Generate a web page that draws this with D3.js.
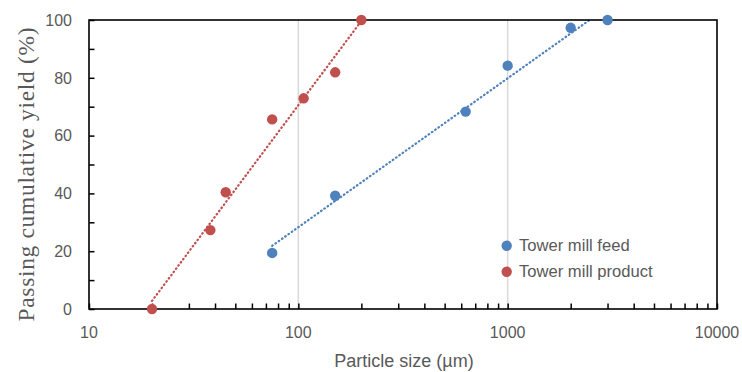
<!DOCTYPE html>
<html>
<head>
<meta charset="utf-8">
<script src="https://cdn.jsdelivr.net/npm/d3@7"></script>
<style>
  html, body { margin: 0; padding: 0; background: #fff; }
  svg { display: block; }
</style>
</head>
<body>
<svg id="chart" width="742" height="372"></svg>
<script>
// ---- data ----
const feedSize = [75, 150, 630, 1000, 2000, 3000];
const feedYield = [19.4, 39.2, 68.3, 84.2, 97.3, 100];
const productSize = [20, 38, 45, 75, 106, 150, 200];
const productYield = [0, 27.3, 40.4, 65.6, 72.9, 81.9, 100];
const seriesNames = ["Tower mill feed", "Tower mill product"];
const seriesColors = ["#4f81bd", "#c0504d"];
const xTickValues = [10, 100, 1000, 10000];
const yTickValues = [0, 20, 40, 60, 80, 100];
const xTitle = "Particle size (µm)";
const yTitle = "Passing cumulative yield (%)";

// ---- layout ----
const svg = d3.select("#chart");
const L = 89, R = 717, T = 20, B = 309;
const x = d3.scaleLog().domain([10, 10000]).range([L, R]);
const y = d3.scaleLinear().domain([0, 100]).range([B, T]);
const grey = "#595959";
const sans = "'Liberation Sans', Arial, sans-serif";

svg.append("defs").append("clipPath").attr("id", "plotClip")
  .append("rect").attr("x", L).attr("y", T).attr("width", R - L).attr("height", B - T);

// gridlines (major x, interior)
svg.append("g").selectAll("line")
  .data(xTickValues.filter(d => d > 10 && d < 10000))
  .join("line")
  .attr("x1", d => x(d)).attr("x2", d => x(d))
  .attr("y1", T).attr("y2", B)
  .attr("stroke", "#d9d9d9").attr("stroke-width", 1.5);

// minor x ticks (inward)
const minorX = [];
for (let dec = 10; dec < 10000; dec *= 10) for (let k = 2; k <= 9; k++) minorX.push(dec * k);
const xAxis = d3.axisBottom(x).tickValues(xTickValues.concat(minorX)).tickSize(-5.5).tickFormat("");
svg.append("g").attr("transform", `translate(0,${B})`).call(xAxis)
  .call(g => g.select(".domain").remove())
  .call(g => g.selectAll("line").attr("stroke", "#000").attr("stroke-width", 1.5));

// x labels
svg.append("g").selectAll("text").data(xTickValues).join("text")
  .attr("x", d => x(d)).attr("y", 338)
  .attr("text-anchor", "middle")
  .attr("font-family", sans).attr("font-size", 16).attr("fill", grey)
  .text(d => d);

// y ticks every 10 (inward)
const yAxis = d3.axisLeft(y).tickValues(d3.range(0, 101, 10)).tickSize(-5.5).tickFormat("");
svg.append("g").attr("transform", `translate(${L},0)`).call(yAxis)
  .call(g => g.select(".domain").remove())
  .call(g => g.selectAll("line").attr("stroke", "#000").attr("stroke-width", 1.5));

// y labels
svg.append("g").selectAll("text").data(yTickValues).join("text")
  .attr("x", 72).attr("y", d => y(d) + 5.8)
  .attr("text-anchor", "end")
  .attr("font-family", sans).attr("font-size", 16).attr("fill", grey)
  .text(d => d);

// trendlines: logarithmic least-squares fit y = a ln(x) + b
function logFit(xs, ys) {
  const lx = xs.map(Math.log);
  const mx = d3.mean(lx), my = d3.mean(ys);
  let sxy = 0, sxx = 0;
  lx.forEach((v, i) => { sxy += (v - mx) * (ys[i] - my); sxx += (v - mx) * (v - mx); });
  const a = sxy / sxx, b = my - a * mx;
  return v => a * Math.log(v) + b;
}
const series = [
  { name: seriesNames[0], color: seriesColors[0], xs: feedSize, ys: feedYield },
  { name: seriesNames[1], color: seriesColors[1], xs: productSize, ys: productYield }
];
const trendG = svg.append("g").attr("clip-path", "url(#plotClip)");
series.forEach(s => {
  const f = logFit(s.xs, s.ys);
  const x0 = d3.min(s.xs), x1 = d3.max(s.xs);
  const pts = d3.range(0, 101).map(i => {
    const xv = Math.exp(Math.log(x0) + (Math.log(x1) - Math.log(x0)) * i / 100);
    return [xv, f(xv)];
  });
  trendG.append("path")
    .attr("d", d3.line().x(d => x(d[0])).y(d => y(d[1]))(pts))
    .attr("fill", "none").attr("stroke", s.color)
    .attr("stroke-width", 2.2).attr("stroke-dasharray", "0.6 3.4")
    .attr("stroke-linecap", "round");
});

// plot border
svg.append("rect").attr("x", L).attr("y", T).attr("width", R - L).attr("height", B - T)
  .attr("fill", "none").attr("stroke", "#000").attr("stroke-width", 1.6);

// markers
series.forEach(s => {
  svg.append("g").selectAll("circle").data(s.xs.map((v, i) => [v, s.ys[i]])).join("circle")
    .attr("cx", d => x(d[0])).attr("cy", d => y(d[1])).attr("r", 5.2)
    .attr("fill", s.color);
});

// legend
const lg = svg.append("g");
series.forEach((s, i) => {
  const cy = 245.7 + i * 26;
  lg.append("circle").attr("cx", 506.7).attr("cy", cy).attr("r", 5.2).attr("fill", s.color);
  lg.append("text").attr("x", 519).attr("y", cy + 5.6)
    .attr("font-family", sans).attr("font-size", 16.6).attr("fill", grey)
    .text(s.name);
});

// axis titles
svg.append("text").attr("x", (L + R) / 2 - 0).attr("y", 367)
  .attr("text-anchor", "middle")
  .attr("font-family", sans).attr("font-size", 18).attr("fill", grey)
  .attr("x", 404)
  .text(xTitle);

svg.append("text")
  .attr("transform", "translate(33.5,174.5) rotate(-90)")
  .attr("text-anchor", "middle")
  .attr("font-family", "'Liberation Serif', 'Times New Roman', serif")
  .attr("font-size", 23.5).attr("fill", grey)
  .attr("textLength", 294).attr("lengthAdjust", "spacing")
  .text(yTitle);
</script>
</body>
</html>
